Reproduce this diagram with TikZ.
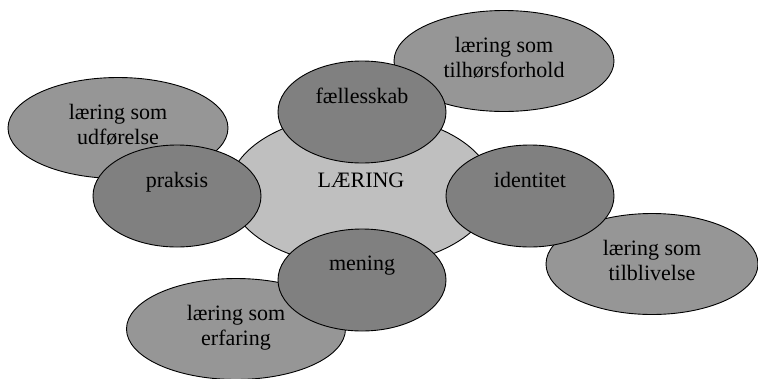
\documentclass[tikz,border=0pt]{standalone}
\usepackage{fontspec}
\setmainfont{Liberation Serif}
\usetikzlibrary{shapes.geometric}
\begin{document}
\begin{tikzpicture}[x=1pt,y=-1pt,
bub/.style={ellipse,draw,line width=.9pt,inner sep=0pt},
core/.style={bub,fill=black!25,minimum width=264pt,minimum height=152pt},
kind/.style={bub,fill=black!50,minimum width=168pt,minimum height=102pt},
form/.style={bub,fill=black!41,minimum height=101pt},
txt/.style={anchor=north,align=center,inner sep=0pt,font=\fontsize{22}{25}\selectfont}]
\useasboundingbox(0,0)rectangle(758,378);
\node[core](laering)at(361,190){};

\node[form,minimum width=220pt](udf)at(118,128){};
\node[form,minimum width=220pt](tilh)at(504,61){};
\node[form,minimum width=212pt](tilb)at(652,264){};
\node[form,minimum width=219pt](erf)at(236,329){};

\node[kind](faell)at(362,112){};
\node[kind](praks)at(177,196){};
\node[kind](ident)at(530,196){};
\node[kind](men)at(362,280){};

\node[txt](laering-t)at([yshift=17pt]laering.center){LÆRING};
\node[txt](udf-t)at([yshift=24pt]udf.center){læring som\\udførelse};
\node[txt](tilh-t)at([yshift=24pt]tilh.center){læring som\\tilhørsforhold};
\node[txt](tilb-t)at([yshift=24pt]tilb.center){læring som\\tilblivelse};
\node[txt](erf-t)at([yshift=24pt]erf.center){læring som\\erfaring};
\node[txt](faell-t)at([yshift=24pt]faell.center){fællesskab};
\node[txt](praks-t)at([yshift=24pt]praks.center){praksis};
\node[txt](ident-t)at([yshift=24pt]ident.center){identitet};
\node[txt](men-t)at([yshift=24pt]men.center){mening};
\end{tikzpicture}
\end{document}
